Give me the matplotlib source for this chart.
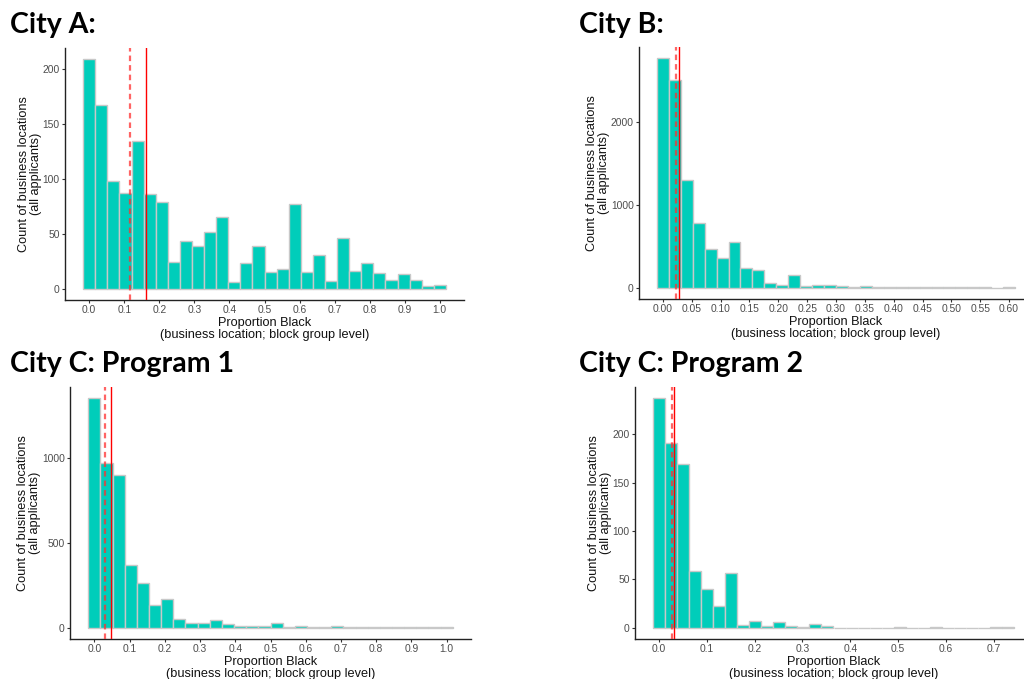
import numpy as np
import matplotlib
matplotlib.use("Agg")
import matplotlib.pyplot as plt

# ---------------- data ----------------
titles = ["City A:", "City B:", "City C: Program 1", "City C: Program 2"]

# bin width = max / 29 (30 bins, first centred at 0)
max_a = 1.0
counts_a = [209, 167, 98, 87, 135, 86, 79, 24, 43, 39, 52, 65, 6, 23, 39,
            15, 18, 77, 15, 31, 7, 46, 16, 23, 14, 8, 13, 8, 2, 3]
dashed_a, solid_a = 0.116, 0.161

max_b = 0.60
counts_b = [2774, 2508, 1302, 786, 472, 359, 548, 238, 218, 56, 36, 153, 20, 32, 32,
            20, 2, 24, 4, 4, 12, 3, 2, 1, 1, 1, 1, 1, 0, 6]
dashed_b, solid_b = 0.0226, 0.0278

max_c1 = 1.0
counts_c1 = [1352, 969, 898, 367, 261, 134, 167, 49, 24, 24, 43, 20, 12, 12, 12,
             28, 6, 10, 6, 6, 8, 4, 2, 2, 2, 2, 2, 2, 2, 2]
dashed_c1, solid_c1 = 0.030, 0.047

max_c2 = 0.73
counts_c2 = [237, 191, 169, 58, 40, 22, 56, 3, 7, 2, 6, 2, 1, 4, 2,
             0, 0, 0, 0, 0, 1, 0, 0, 1, 0, 0, 0, 0, 1, 1]
dashed_c2, solid_c2 = 0.0272, 0.0307

xticks_a = np.round(np.arange(0, 1.01, 0.1), 2)
xticks_b = np.round(np.arange(0, 0.601, 0.05), 2)
xticks_c2 = np.round(np.arange(0, 0.71, 0.1), 2)
yticks_a = [0, 50, 100, 150, 200]
yticks_b = [0, 1000, 2000]
yticks_c1 = [0, 500, 1000]
yticks_c2 = [0, 50, 100, 150, 200]

# ---------------- styling ----------------
W, H = 1024, 679
fig = plt.figure(figsize=(W / 100, H / 100), dpi=100)
FILL = "#00CDBA"
EDGE = "#C8C8C8"
AX_FONT = "Liberation Sans"
TITLE_FONT = "Lato"


def ax_px(left, right, top, bottom):
    return [left / W, 1 - bottom / H, (right - left) / W, (bottom - top) / H]


panels = [
    dict(box=(65, 464, 48, 300), counts=counts_a, xmax=max_a, d=dashed_a, s=solid_a,
         xt=xticks_a, fmt="{:.1f}", yt=yticks_a, title=titles[0], tpos=(10, 33)),
    dict(box=(639, 1033, 47, 299), counts=counts_b, xmax=max_b, d=dashed_b, s=solid_b,
         xt=xticks_b, fmt="{:.2f}", yt=yticks_b, title=titles[1], tpos=(579, 33)),
    dict(box=(70, 471, 387, 639), counts=counts_c1, xmax=max_c1, d=dashed_c1, s=solid_c1,
         xt=xticks_a, fmt="{:.1f}", yt=yticks_c1, title=titles[2], tpos=(10, 372)),
    dict(box=(635, 1032, 387, 639), counts=counts_c2, xmax=max_c2, d=dashed_c2, s=solid_c2,
         xt=xticks_c2, fmt="{:.1f}", yt=yticks_c2, title=titles[3], tpos=(579, 372)),
]

for p in panels:
    ax = fig.add_axes(ax_px(*p["box"]))
    counts = np.array(p["counts"], dtype=float)
    n = len(counts)
    bw = p["xmax"] / (n - 1)
    centers = np.arange(n) * bw
    ax.bar(centers, counts, width=bw, color=FILL, edgecolor=EDGE, linewidth=1.0, zorder=2)
    ax.axvline(p["d"], color="#FF3030", alpha=0.75, linestyle=(0, (2.5, 1.8)), linewidth=1.6, zorder=3)
    ax.axvline(p["s"], color="#FF0000", linewidth=1.0, zorder=3)

    lo, hi = -bw / 2, p["xmax"] + bw / 2
    pad = 0.05 * (hi - lo)
    ax.set_xlim(lo - pad, hi + pad)
    ymax = counts.max()
    ax.set_ylim(-0.05 * ymax, 1.05 * ymax)

    ax.set_xticks(p["xt"])
    ax.set_xticklabels([p["fmt"].format(v) for v in p["xt"]])
    ax.set_yticks(p["yt"])
    ax.set_yticklabels([str(v) for v in p["yt"]])
    ax.tick_params(axis="both", length=2.5, width=0.8, color="#333333",
                   labelsize=7.4, labelcolor="#4D4D4D", pad=1.2)
    for lab in ax.get_xticklabels() + ax.get_yticklabels():
        lab.set_fontfamily(AX_FONT)
    for side in ("top", "right"):
        ax.spines[side].set_visible(False)
    for side in ("left", "bottom"):
        ax.spines[side].set_color("#222222")
        ax.spines[side].set_linewidth(1.0)

    ax.set_xlabel("Proportion Black\n(business location; block group level)",
                  fontsize=9.2, family=AX_FONT, color="#111111", labelpad=1.5, linespacing=1.0)
    ax.set_ylabel("Count of business locations\n(all applicants)",
                  fontsize=9.2, family=AX_FONT, color="#111111", labelpad=0.5, linespacing=1.0)

    tx, ty = p["tpos"]
    fig.text(tx / W, 1 - ty / H, p["title"], fontsize=20.5, fontweight="bold",
             family=TITLE_FONT, ha="left", va="baseline", color="black")

fig.savefig("out.png", dpi=100)
